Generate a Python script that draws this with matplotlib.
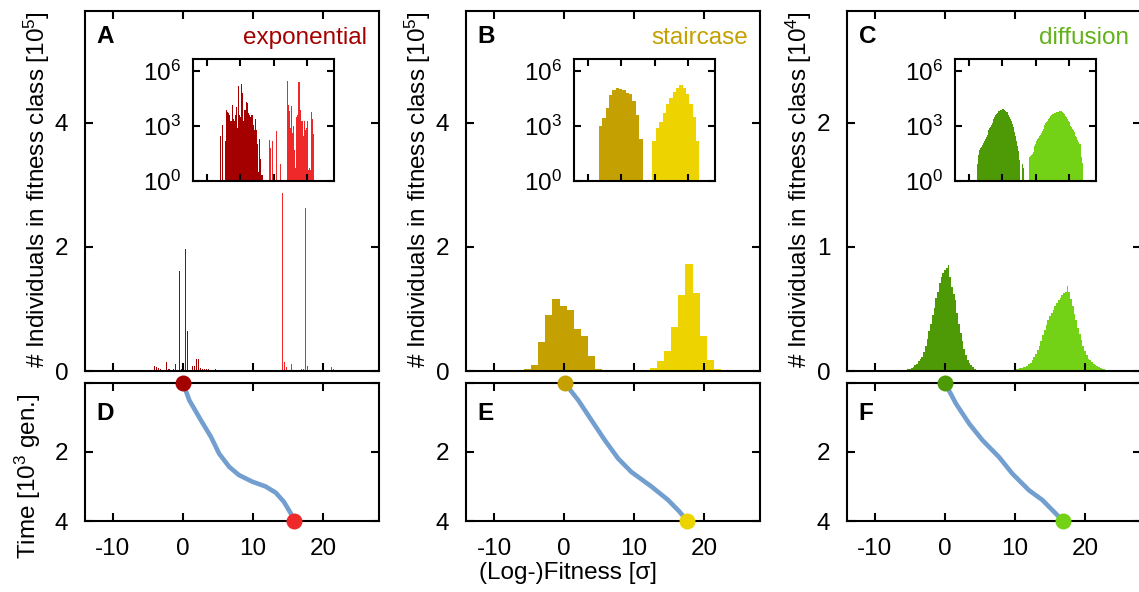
import numpy as np
import matplotlib
matplotlib.use("Agg")
import matplotlib.pyplot as plt

plt.rcParams['font.family'] = ['Liberation Sans', 'DejaVu Sans']
plt.rcParams['mathtext.fontset'] = 'custom'
plt.rcParams['mathtext.rm'] = 'Liberation Sans'
plt.rcParams['mathtext.it'] = 'Liberation Sans:italic'
plt.rcParams['mathtext.bf'] = 'Liberation Sans:bold'
plt.rcParams['axes.unicode_minus'] = False

# ---------------- data ----------------
# exponential model (bin width 0.3 sigma)
exp_bin_w = 0.3
exp_dark_start = -5.9
exp_dark_counts = [280, 0, 1200, 0, 0, 150, 7500, 6000, 5000, 4000, 2000, 2000, 14500,
                   2500, 1800, 4000, 10700, 800, 161000, 4000, 3000, 196000, 64000,
                   2000, 8000, 7500, 20000, 19000, 5000, 4000, 3000, 4000, 4000, 1200,
                   600, 2500, 600, 100, 3, 200, 15, 2, 2]
exp_light_start = 8.85
exp_light_counts = [180, 60, 0, 160, 0, 0, 0, 570, 0, 0, 0, 9, 0, 0, 0, 0, 0, 0,
                    287000, 14000, 6500, 800, 12000, 400, 1000, 50, 5, 3000, 4000,
                    262000, 7500, 400, 1800, 300, 2000, 600, 800, 2000, 4, 5, 4,
                    6000, 2500, 350, 0]

# staircase model (bin width 1 sigma)
st_bin_w = 1.0
st_dark_start = -6.15
st_dark_counts = [1000, 2750, 9300, 47000, 90000, 116000, 105000, 99000, 67000,
                  56000, 24000, 4000, 200]
st_light_start = 9.85
st_light_counts = [160, 800, 1700, 5000, 16000, 33000, 71000, 122000, 172000,
                   126000, 56000, 17000, 3000, 160]

# diffusion model (bin width 0.25 sigma)
df_bin_w = 0.25
df_dark_start = -7.5
df_dark_counts = [2, 9, 25, 48, 60, 75, 90, 100, 120, 150, 200, 260, 330, 450, 600,
                  800, 950, 1100, 1500, 2000, 2600, 3200, 3800, 4500, 5100, 5900,
                  6400, 7100, 7600, 7900, 8100, 8300, 8550, 7600, 6800, 6200, 5700,
                  4700, 3800, 3100, 2400, 1800, 1300, 900, 650, 450, 300, 150, 80,
                  45, 25, 14, 0, 0, 8, 5]
df_light_start = 8.25
df_light_counts = [20, 22, 26, 30, 40, 55, 80, 110, 150, 190, 230, 260, 290, 330,
                   420, 540, 680, 850, 1100, 1400, 1700, 2000, 2450, 2900, 3300,
                   3700, 4100, 4400, 4700, 4900, 5200, 5500, 5700, 5900, 6100, 6300,
                   6400, 6850, 6400, 5800, 5200, 4600, 4100, 3500, 3000, 2500, 2000,
                   1600, 1250, 1000, 850, 700, 600, 480, 380, 300, 240, 180, 130,
                   110, 100, 60, 20, 10]

# mean-fitness trajectories (sigma, time in 10^3 generations)
exp_traj_x = [0, 0.9, 2.56, 3.99, 5.17, 6.6, 8.0, 9.9, 11.8, 13.25, 14.4, 15.4, 15.9]
exp_traj_t = [0, 0.5, 1.08, 1.56, 2.05, 2.43, 2.67, 2.86, 3.0, 3.18, 3.44, 3.78, 4.0]
st_traj_x = [0.1, 2.04, 3.93, 5.84, 7.74, 9.63, 12.48, 14.86, 16.5, 17.6]
st_traj_t = [0, 0.5, 1.08, 1.66, 2.19, 2.58, 3.0, 3.39, 3.73, 4.0]
df_traj_x = [0, 1.57, 3.46, 5.36, 7.73, 9.63, 12.0, 13.9, 15.8, 16.85]
df_traj_t = [0, 0.6, 1.18, 1.66, 2.15, 2.63, 3.11, 3.39, 3.78, 4.0]

panel_letters = ['A', 'B', 'C']
bottom_letters = ['D', 'E', 'F']
model_names = ['exponential', 'staircase', 'diffusion']
name_colors = ['#a40000', '#c4a000', '#62b21a']
dark_colors = ['#a40000', '#c4a000', '#4e9a06']
light_colors = ['#ef2929', '#edd400', '#73d216']
y_scales = [1e5, 1e5, 1e4]
y_exps = ['5', '5', '4']
y_tops = [5.8, 5.8, 2.9]
y_ticks = [[0, 2, 4], [0, 2, 4], [0, 1, 2]]
x_ticks = [-10, 0, 10, 20]
x_lim = (-14, 28)

models = [
    (exp_bin_w, exp_dark_start, exp_dark_counts, exp_light_start, exp_light_counts,
     exp_traj_x, exp_traj_t),
    (st_bin_w, st_dark_start, st_dark_counts, st_light_start, st_light_counts,
     st_traj_x, st_traj_t),
    (df_bin_w, df_dark_start, df_dark_counts, df_light_start, df_light_counts,
     df_traj_x, df_traj_t),
]

# ---------------- layout ----------------
W, H = 1139, 592
fig = plt.figure(figsize=(W / 100, H / 100), dpi=100)


def rect(left, right, top, bottom):
    return [left / W, 1 - bottom / H, (right - left) / W, (bottom - top) / H]


FS = 17.5
lefts = [85, 466, 847]
pw = 294
line_col = '#729fcf'


def style(ax, pad=12, length=6):
    for s in ax.spines.values():
        s.set_linewidth(1.5)
    ax.tick_params(which='both', direction='in', top=True, right=True,
                   length=length, width=1.5, labelsize=FS, pad=pad)
    ax.tick_params(which='minor', length=0)


for i, (bw, ds, dc, ls, lc, tx, tt) in enumerate(models):
    L = lefts[i]
    dcent = ds + bw * np.arange(len(dc))
    lcent = ls + bw * np.arange(len(lc))
    dc = np.array(dc, float)
    lc = np.array(lc, float)
    main_w = bw * 0.5 if i == 0 else bw * 1.02

    # main histogram
    ax = fig.add_axes(rect(L, L + pw, 11, 371))
    ax.bar(dcent, dc / y_scales[i], width=main_w, color=dark_colors[i], linewidth=0)
    ax.bar(lcent, lc / y_scales[i], width=main_w, color=light_colors[i], linewidth=0)
    ax.set_xlim(*x_lim)
    ax.set_ylim(0, y_tops[i])
    ax.set_xticks(x_ticks)
    ax.set_xticklabels([])
    ax.set_yticks(y_ticks[i])
    style(ax)
    ax.text(0.04, 0.93, panel_letters[i], transform=ax.transAxes, fontsize=FS,
            fontweight='bold', ha='left', va='center')
    ax.text(0.96, 0.925, model_names[i], transform=ax.transAxes, fontsize=FS,
            color=name_colors[i], ha='right', va='center')
    fig.text((L - 48) / W, 1 - 190 / H,
             '# Individuals in fitness class [10$^{%s}$]' % y_exps[i],
             rotation=90, ha='center', va='center', fontsize=FS)

    # inset (log scale)
    ins = fig.add_axes(rect(L + 108.3, L + 249, 59.3, 181))
    ins.bar(dcent, dc, width=bw * 1.02, color=dark_colors[i], linewidth=0)
    ins.bar(lcent, lc, width=bw * 1.02, color=light_colors[i], linewidth=0)
    ins.set_yscale('log')
    ins.set_xlim(*x_lim)
    ins.set_ylim(1, 10 ** 6.65)
    ins.set_xticks(x_ticks)
    ins.set_xticklabels([])
    ins.set_yticks([1, 1e3, 1e6])
    ins.set_yticklabels(['10$^0$', '10$^3$', '10$^6$'])
    style(ins, pad=9, length=5)

    # trajectory panel
    bx = fig.add_axes(rect(L, L + pw, 383, 521))
    bx.plot(tx, tt, color=line_col, lw=3.3, solid_capstyle='round', zorder=2)
    bx.plot(tx[0], tt[0], 'o', ms=11.5, color=dark_colors[i], mec='none',
            clip_on=False, zorder=5)
    bx.plot(tx[-1], tt[-1], 'o', ms=11.5, color=light_colors[i], mec='none',
            clip_on=False, zorder=5)
    bx.set_xlim(*x_lim)
    bx.set_ylim(4, 0)
    bx.set_xticks(x_ticks)
    bx.set_yticks([0, 2, 4])
    bx.set_yticklabels(['', '2', '4'])
    style(bx)
    bx.text(0.04, 0.78, bottom_letters[i], transform=bx.transAxes, fontsize=FS,
            fontweight='bold', ha='left', va='center')

fig.text(28 / W, 1 - 476 / H, 'Time [10$^3$ gen.]', rotation=90, ha='center',
         va='center', fontsize=FS)
fig.text(568 / W, 1 - 573 / H, '(Log-)Fitness [σ]', ha='center', va='center',
         fontsize=FS)

fig.savefig('out.png', dpi=100)
